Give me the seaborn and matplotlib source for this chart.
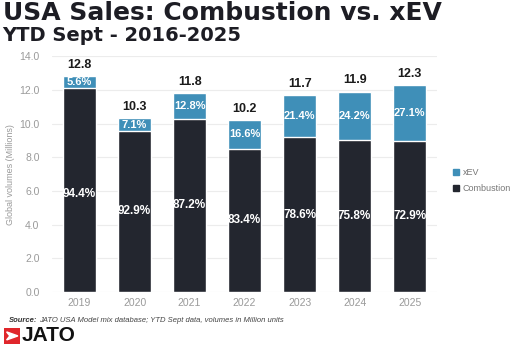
import matplotlib
matplotlib.use("Agg")
import matplotlib.pyplot as plt
import matplotlib.patches as mpatches
import seaborn as sns
import pandas as pd

# Dados
anos = ["2019", "2020", "2021", "2022", "2023", "2024", "2025"]
total = [12.8, 10.3, 11.8, 10.2, 11.7, 11.9, 12.3]
xev_pct = [5.6, 7.1, 12.8, 16.6, 21.4, 24.2, 27.1]
comb_pct = [94.4, 92.9, 87.2, 83.4, 78.6, 75.8, 72.9]

COR_XEV = "#3f8fb8"
COR_COMB = "#23262f"
CINZA = "#9a9a9a"
NARROW = ["Liberation Sans Narrow", "Liberation Sans", "DejaVu Sans"]

df = pd.DataFrame({"ano": anos, "total": total, "xev": xev_pct, "comb": comb_pct})
df["comb_vol"] = df["total"] * df["comb"] / 100

sns.set_style("white")
plt.rcParams["font.family"] = ["Liberation Sans", "DejaVu Sans"]

fig = plt.figure(figsize=(5.21, 3.51), dpi=100)
ax = fig.add_axes([0.1, 0.168, 0.739, 0.672])

sns.barplot(data=df, x="ano", y="total", color=COR_XEV, width=0.6, ax=ax, saturation=1)
sns.barplot(data=df, x="ano", y="comb_vol", color=COR_COMB, width=0.6, ax=ax, saturation=1)

ax.set_ylim(0, 14)
ax.set_xlim(-0.5, 6.5)
ax.set_yticks([0, 2, 4, 6, 8, 10, 12, 14])
ax.set_yticklabels([f"{v:.1f}" for v in ax.get_yticks()], color=CINZA, fontsize=7.5)
ax.tick_params(axis="x", colors=CINZA, labelsize=7.5, length=0, pad=4)
ax.tick_params(axis="y", length=0, pad=9)
ax.yaxis.grid(True, color="#ececec", linewidth=0.8)
ax.set_axisbelow(True)
for s in ax.spines.values():
    s.set_visible(False)
ax.set_xlabel("")
ax.set_ylabel("Global volumes (Millions)", color=CINZA, fontsize=6.5, labelpad=3)

for i, row in df.iterrows():
    ax.text(i, row["total"] + 0.3, f"{row['total']:.1f}", ha="center", va="bottom",
            fontsize=9, fontweight="bold", color="#1b1b1b", family=NARROW)
    ax.text(i, (row["comb_vol"] + row["total"]) / 2, f"{row['xev']:.1f}%", ha="center",
            va="center", fontsize=8, fontweight="bold", color="white", family=NARROW)
    y_comb = row["comb_vol"] / 2 if i != 0 else 5.8
    ax.text(i, y_comb, f"{row['comb']:.1f}%", ha="center", va="center",
            fontsize=8.5, fontweight="bold", color="white", family=NARROW)

handles = [mpatches.Patch(color=COR_XEV, label="xEV"),
           mpatches.Patch(color=COR_COMB, label="Combustion")]
fig.legend(handles=handles, loc="center left", bbox_to_anchor=(0.853, 0.485),
           frameon=False, fontsize=6.5, handlelength=0.7, handleheight=0.7,
           handletextpad=0.4, labelspacing=0.8, labelcolor="#777777")

fig.text(0.005, 0.962, "USA Sales: Combustion vs. xEV", fontsize=18, fontweight="bold",
         color="#1d1d24", va="center", family="DejaVu Sans")
fig.text(0.005, 0.9, "YTD Sept - 2016-2025", fontsize=14, fontweight="bold",
         color="#1d1d24", va="center", family="DejaVu Sans")

fonte = fig.text(0.017, 0.088, "Source:", fontsize=5.5, style="italic", fontweight="bold",
                 color="#333333", va="center")
fig.canvas.draw()
bb = fonte.get_window_extent()
x_fim = bb.x1 / fig.bbox.width + 0.004
fig.text(x_fim, 0.088, "JATO USA Model mix database; YTD Sept data, volumes in Million units",
         fontsize=5.5, style="italic", color="#444444", va="center")

# logo
logo = fig.add_axes([0.008, 0.02, 0.031, 0.046])
logo.set_xlim(0, 1)
logo.set_ylim(0, 1)
logo.axis("off")
logo.add_patch(mpatches.Rectangle((0, 0), 1, 1, color="#e0262b"))
logo.add_patch(mpatches.Polygon([(0.15, 0.75), (0.85, 0.5), (0.15, 0.25), (0.35, 0.5)],
                                color="white"))
fig.text(0.042, 0.044, "JATO", fontsize=15, fontweight="bold", color="#111111", va="center")

fig.savefig("out.png", dpi=100)
